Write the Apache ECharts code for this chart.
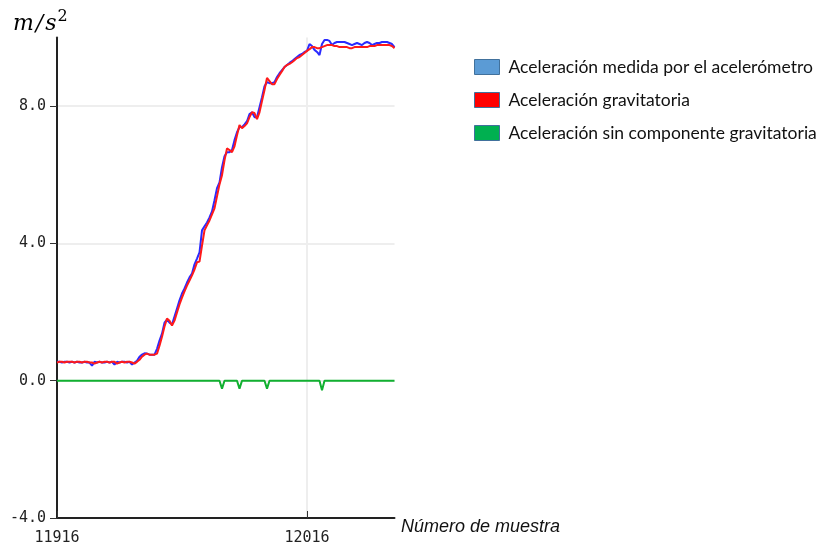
<!DOCTYPE html>
<html>
<head>
<meta charset="utf-8">
<script src="https://cdn.jsdelivr.net/npm/echarts@6/dist/echarts.min.js"></script>
<style>html,body{margin:0;padding:0;background:#fff;}#c{width:823px;height:547px;}</style>
</head>
<body>
<div id="c"></div>
<script>
// Sample numbers (x axis)
const firstSample = 11916;
const xTickLabels = ['11916', '12016'];
const yTickValues = [-4, 0, 4, 8];

// Acceleration measured by the accelerometer (m/s^2)
const measured = [
  0.55,0.55,0.53,0.55,0.55,0.53,0.55,0.53,0.55,0.53,0.53,0.55,0.53,0.53,0.44,0.55,0.53,0.55,0.53,0.53,
  0.55,0.53,0.55,0.47,0.55,0.53,0.55,0.55,0.53,0.55,0.47,0.53,0.58,0.70,0.76,0.80,0.79,0.76,0.76,0.76,
  0.93,1.17,1.37,1.69,1.78,1.69,1.64,1.87,2.10,2.34,2.54,2.69,2.86,3.01,3.12,3.39,3.56,3.74,4.38,4.50,
  4.61,4.76,4.93,5.26,5.61,5.78,6.22,6.54,6.66,6.66,6.72,7.01,7.24,7.39,7.39,7.47,7.56,7.77,7.82,7.68,
  7.68,7.97,8.26,8.58,8.70,8.67,8.67,8.70,8.85,8.96,9.05,9.14,9.20,9.26,9.31,9.37,9.43,9.49,9.52,9.58,
  9.61,9.81,9.75,9.64,9.58,9.49,9.81,9.93,9.93,9.90,9.78,9.84,9.87,9.87,9.87,9.87,9.84,9.81,9.78,9.81,
  9.84,9.81,9.78,9.84,9.87,9.84,9.78,9.81,9.84,9.84,9.87,9.87,9.87,9.84,9.81,9.72
];
// Gravitational acceleration
const gravity = [
  0.53,0.55,0.55,0.53,0.55,0.55,0.55,0.53,0.55,0.55,0.53,0.55,0.55,0.53,0.53,0.50,0.53,0.55,0.53,0.55,
  0.55,0.53,0.55,0.55,0.50,0.53,0.55,0.53,0.55,0.55,0.53,0.50,0.55,0.61,0.70,0.76,0.79,0.76,0.76,0.76,
  0.79,1.02,1.28,1.58,1.81,1.75,1.61,1.75,1.99,2.22,2.42,2.60,2.77,2.92,3.07,3.24,3.45,3.47,3.94,4.38,
  4.53,4.67,4.85,5.02,5.37,5.72,5.99,6.42,6.77,6.72,6.66,6.83,7.15,7.45,7.36,7.42,7.50,7.68,7.82,7.80,
  7.62,7.82,8.15,8.47,8.82,8.73,8.64,8.64,8.79,8.91,9.02,9.14,9.20,9.23,9.28,9.34,9.40,9.43,9.49,9.55,
  9.61,9.66,9.72,9.72,9.69,9.69,9.72,9.75,9.78,9.78,9.78,9.75,9.75,9.72,9.72,9.72,9.72,9.69,9.69,9.72,
  9.72,9.72,9.72,9.72,9.72,9.75,9.75,9.75,9.78,9.78,9.78,9.78,9.78,9.78,9.75,9.69
];
// Acceleration without gravitational component
const linear = [
  0,0,0,0,0,0,0,0,0,0,0,0,0,0,0,0,0,0,0,0,
  0,0,0,0,0,0,0,0,0,0,0,0,0,0,0,0,0,0,0,0,
  0,0,0,0,0,0,0,0,0,0,0,0,0,0,0,0,0,0,0,0,
  0,0,0,0,0,0,-0.23,0,0,0,0,0,0,-0.23,0,0,0,0,0,0,
  0,0,0,0,-0.23,0,0,0,0,0,0,0,0,0,0,0,0,0,0,0,
  0,0,0,0,0,0,-0.28,0,0,0,0,0,0,0,0,0,0,0,0,0,
  0,0,0,0,0,0,0,0,0,0,0,0,0,0,0,0
];
const seriesNames = [
  'Aceleración medida por el acelerómetro',
  'Aceleración gravitatoria',
  'Aceleración sin componente gravitatoria'
];

const categories = measured.map((_, i) => String(firstSample + i));

const chart = echarts.init(document.getElementById('c'), null, {renderer: 'canvas'});
const mono = 'DejaVu Sans Mono';
const tickIdx = xTickLabels.map(l => categories.indexOf(l));

chart.setOption({
  animation: false,
  backgroundColor: '#fff',
  grid: {left: 57, right: 428.5, top: 37.5, bottom: 29, containLabel: false},
  legend: {
    orient: 'vertical', left: 469, top: 53, itemGap: 15, padding: 5,
    itemWidth: 25, itemHeight: 15, icon: 'rect',
    textStyle: {fontFamily: 'Lato', fontSize: 17.5, color: '#111', padding: [0, 0, 0, 4]},
    data: [
      {name: seriesNames[0], itemStyle: {color: '#5b9bd5', borderColor: '#41719c', borderWidth: 1}},
      {name: seriesNames[1], itemStyle: {color: '#ff0000', borderColor: '#41719c', borderWidth: 1}},
      {name: seriesNames[2], itemStyle: {color: '#00b050', borderColor: '#41719c', borderWidth: 1}}
    ]
  },
  xAxis: {
    type: 'category', data: categories, boundaryGap: false,
    axisLine: {onZero: false, lineStyle: {color: '#222', width: 2}},
    axisTick: {inside: true, length: 7, lineStyle: {color: '#333', width: 1},
      interval: (i) => tickIdx.includes(i)},
    axisLabel: {fontFamily: mono, fontSize: 15, color: '#222', margin: 13,
      interval: (i) => tickIdx.includes(i)},
    splitLine: {show: true, lineStyle: {color: '#eeeeee', width: 2},
      interval: (i) => tickIdx.includes(i) && i > 0}
  },
  yAxis: {
    type: 'value', min: -4, max: 10, interval: 4,
    axisLine: {show: true, lineStyle: {color: '#222', width: 2}},
    axisTick: {show: true, length: 7, lineStyle: {color: '#333'}},
    axisLabel: {fontFamily: mono, fontSize: 15, color: '#222', margin: 11,
      showMaxLabel: false,
      formatter: (v) => yTickValues.includes(v) ? v.toFixed(1) : ''},
    splitLine: {show: true, showMaxLine: false, showMinLine: false, lineStyle: {color: '#eeeeee', width: 2}}
  },
  series: [
    {name: seriesNames[0], type: 'line', data: measured, showSymbol: false, symbol: 'none',
      itemStyle: {color: '#5b9bd5'}, lineStyle: {color: '#2a2aff', width: 2}, z: 2},
    {name: seriesNames[1], type: 'line', data: gravity, showSymbol: false, symbol: 'none',
      itemStyle: {color: '#ff0000'}, lineStyle: {color: '#ff1a1a', width: 2}, z: 3},
    {name: seriesNames[2], type: 'line', data: linear, showSymbol: false, symbol: 'none',
      itemStyle: {color: '#00b050'}, lineStyle: {color: '#11b030', width: 2}, z: 4}
  ],
  graphic: [
    {type: 'text', left: 13, top: 9, style: {
      text: '{a|m}{b|/}{a|s}{sup|2}',
      rich: {
        a: {fontFamily: 'DejaVu Serif', fontStyle: 'italic', fontSize: 22, color: '#111'},
        b: {fontFamily: 'DejaVu Serif', fontStyle: 'italic', fontSize: 22, color: '#111', padding: [0, 2, 0, 2]},
        sup: {fontFamily: 'DejaVu Serif', fontSize: 16, color: '#111', verticalAlign: 'top', padding: [0, 0, 14, 1]}
      }
    }},
    {type: 'text', left: 401, top: 518, style: {
      text: 'Número de muestra', fontFamily: 'Liberation Sans', fontStyle: 'italic',
      fontSize: 18, fill: '#111'
    }}
  ]
});
</script>
</body>
</html>
